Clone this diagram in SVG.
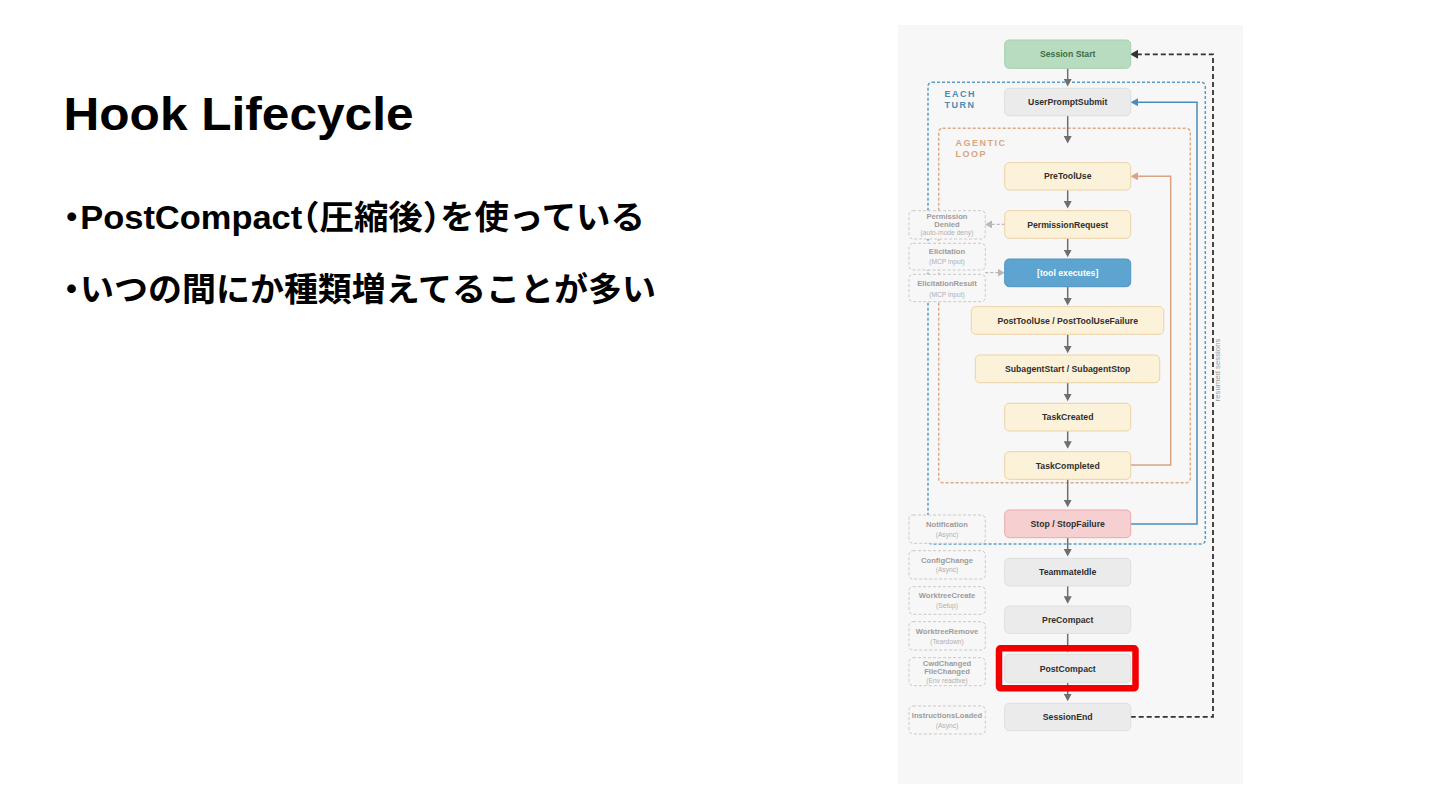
<svg xmlns="http://www.w3.org/2000/svg" width="1440" height="810" viewBox="0 0 1440 810">
<style>
.title{font-family:"Liberation Sans",Arial,sans-serif;font-weight:700;font-size:46px;fill:#000}
.bul{font-family:"Liberation Sans","Noto Sans CJK JP",sans-serif;font-weight:700;font-size:33.5px;fill:#000;font-feature-settings:"halt"}
.nl{font-family:"Liberation Sans",Arial,sans-serif;font-weight:700;font-size:8.7px;fill:#2f2f2f;text-anchor:middle}
.sl{font-family:"Liberation Sans",Arial,sans-serif;font-weight:700;font-size:7.6px;fill:#9c9c9c;text-anchor:middle}
.ss{font-family:"Liberation Sans",Arial,sans-serif;font-size:6.7px;fill:#b0b0b0;text-anchor:middle}
.grp{font-family:"Liberation Sans",Arial,sans-serif;font-weight:700;font-size:9px;letter-spacing:1.5px}
.gray{fill:#ebebeb;stroke:#dedede;stroke-width:1}
.cream{fill:#fcf2d9;stroke:#ebd3a6;stroke-width:1}
.side{fill:#f7f7f7;stroke:#c9c9c9;stroke-width:1;stroke-dasharray:3 2}
.arr{stroke:#6e6e6e;stroke-width:1.5;fill:none;marker-end:url(#ah)}
.darr{stroke:#b8b8b8;stroke-width:1.2;fill:none;stroke-dasharray:3 2;marker-end:url(#ahl)}
</style>
<defs>
<marker id="ah" markerUnits="userSpaceOnUse" markerWidth="8" markerHeight="8" refX="5" refY="4" orient="auto"><path d="M0,0 L7.5,4 L0,8 z" fill="#6e6e6e"/></marker>
<marker id="ahl" markerUnits="userSpaceOnUse" markerWidth="8" markerHeight="8" refX="5" refY="4" orient="auto"><path d="M0,0 L7,4 L0,8 z" fill="#b8b8b8"/></marker>
<marker id="aho" markerUnits="userSpaceOnUse" markerWidth="8" markerHeight="8" refX="5" refY="4" orient="auto"><path d="M0,0 L7.5,4 L0,8 z" fill="#d9a483"/></marker>
<marker id="ahb" markerUnits="userSpaceOnUse" markerWidth="8" markerHeight="8" refX="5" refY="4" orient="auto"><path d="M0,0 L7.5,4 L0,8 z" fill="#4b8dba"/></marker>
<marker id="ahk" markerUnits="userSpaceOnUse" markerWidth="9" markerHeight="9" refX="5" refY="4.5" orient="auto"><path d="M0,0 L8,4.5 L0,9 z" fill="#333"/></marker>
</defs>
<rect width="1440" height="810" fill="#fff"/>
<text class="title" x="63.5" y="130" textLength="350" lengthAdjust="spacingAndGlyphs">Hook Lifecycle</text>
<text class="bul" x="63" y="229" textLength="582" lengthAdjust="spacingAndGlyphs">・PostCompact（圧縮後）を使っている</text>
<text class="bul" x="63" y="301" textLength="593" lengthAdjust="spacingAndGlyphs">・いつの間にか種類増えてることが多い</text>

<rect x="898" y="25" width="345" height="759" fill="#f7f7f7"/>

<g id="each-turn">
<rect x="928" y="82.3" width="277.3" height="461.7" rx="4" fill="none" stroke="#5b9cc6" stroke-width="1.5" stroke-dasharray="3 2"/>
<text class="grp" x="944.5" y="97" fill="#4a8ab5">EACH</text>
<text class="grp" x="944.5" y="107.8" fill="#4a8ab5">TURN</text>
</g>
<g id="agentic-loop">
<rect x="938.7" y="128.3" width="251.6" height="354.4" rx="4" fill="none" stroke="#dcaa8a" stroke-width="1.5" stroke-dasharray="3 2"/>
<text class="grp" x="955.5" y="146" fill="#d9a57f">AGENTIC</text>
<text class="grp" x="955.5" y="156.8" fill="#d9a57f">LOOP</text>
</g>

<g id="connectors">
<line class="arr" x1="1067.7" y1="68.3" x2="1067.7" y2="84"/>
<line class="arr" x1="1067.7" y1="115.7" x2="1067.7" y2="141"/>
<line class="arr" x1="1067.7" y1="190" x2="1067.7" y2="206"/>
<line class="arr" x1="1067.7" y1="238.3" x2="1067.7" y2="254.7"/>
<line class="arr" x1="1067.7" y1="286.7" x2="1067.7" y2="303"/>
<line class="arr" x1="1067.7" y1="334.3" x2="1067.7" y2="350.7"/>
<line class="arr" x1="1067.7" y1="382.7" x2="1067.7" y2="398.7"/>
<line class="arr" x1="1067.7" y1="431" x2="1067.7" y2="446.3"/>
<line class="arr" x1="1067.7" y1="479.3" x2="1067.7" y2="504.7"/>
<line class="arr" x1="1067.7" y1="537.7" x2="1067.7" y2="554"/>
<line class="arr" x1="1067.7" y1="586" x2="1067.7" y2="601.3"/>
<line class="arr" x1="1067.7" y1="633.3" x2="1067.7" y2="650"/>
<line class="arr" x1="1067.7" y1="682.7" x2="1067.7" y2="698.7"/>
<path d="M1130.7,465 H1170.7 V176.3 H1133" fill="none" stroke="#d9a483" stroke-width="1.5" marker-end="url(#aho)"/>
<path d="M1130.7,524 H1197 V102.3 H1133" fill="none" stroke="#4b8dba" stroke-width="1.5" marker-end="url(#ahb)"/>
<path d="M1130.7,716.8 H1213 V54.3 H1133" fill="none" stroke="#333" stroke-width="1.8" stroke-dasharray="5 3" marker-end="url(#ahk)"/>
<line class="darr" x1="1004.7" y1="224.4" x2="987" y2="224.4"/>
<line class="darr" x1="985.3" y1="272.7" x2="1002.7" y2="272.7"/>
<text x="1220" y="370" transform="rotate(-90 1220 370)" font-family="Liberation Sans, Arial, sans-serif" font-size="7.8" fill="#9a9a9a" text-anchor="middle">resumed sessions</text>
</g>

<g id="session-start"><rect x="1004.7" y="40" width="126" height="28.3" rx="4.5" fill="#b8dcbf" stroke="#a5cfad"/><text class="nl" x="1067.7" y="57.3" style="fill:#3e6d47">Session Start</text></g>
<g id="user-prompt-submit"><rect class="gray" x="1004.7" y="88.3" width="126" height="27.4" rx="4.5"/><text class="nl" x="1067.7" y="105.1">UserPromptSubmit</text></g>
<g id="pre-tool-use"><rect class="cream" x="1004.7" y="162.7" width="126" height="27.3" rx="4.5"/><text class="nl" x="1067.7" y="179.4">PreToolUse</text></g>
<g id="permission-request"><rect class="cream" x="1004.7" y="210.7" width="126" height="27.6" rx="4.5"/><text class="nl" x="1067.7" y="227.6">PermissionRequest</text></g>
<g id="tool-executes"><rect x="1004.7" y="259" width="126" height="27.7" rx="4.5" fill="#5ea4d0" stroke="#4f94c2"/><text class="nl" x="1067.7" y="275.9" style="fill:#fff">[tool executes]</text></g>
<g id="post-tool-use"><rect class="cream" x="971.3" y="306.7" width="192.4" height="27.6" rx="4.5"/><text class="nl" x="1067.7" y="323.6">PostToolUse / PostToolUseFailure</text></g>
<g id="subagent"><rect class="cream" x="975.3" y="355" width="184.4" height="27.7" rx="4.5"/><text class="nl" x="1067.7" y="371.9">SubagentStart / SubagentStop</text></g>
<g id="task-created"><rect class="cream" x="1004.7" y="403.3" width="126" height="27.7" rx="4.5"/><text class="nl" x="1067.7" y="420.3">TaskCreated</text></g>
<g id="task-completed"><rect class="cream" x="1004.7" y="451.7" width="126" height="27.6" rx="4.5"/><text class="nl" x="1067.7" y="468.6">TaskCompleted</text></g>
<g id="stop"><rect x="1004.7" y="510" width="126" height="27.7" rx="4.5" fill="#f6cfd1" stroke="#e9a9ad"/><text class="nl" x="1067.7" y="526.9">Stop / StopFailure</text></g>
<g id="teammate-idle"><rect class="gray" x="1004.7" y="558.3" width="126" height="27.7" rx="4.5"/><text class="nl" x="1067.7" y="575.3">TeammateIdle</text></g>
<g id="pre-compact"><rect class="gray" x="1004.7" y="606" width="126" height="27.3" rx="4.5"/><text class="nl" x="1067.7" y="622.8">PreCompact</text></g>
<g id="post-compact"><rect class="gray" x="1004.7" y="654.3" width="126" height="28.4" rx="4.5"/><text class="nl" x="1067.7" y="671.6">PostCompact</text></g>
<g id="session-end"><rect class="gray" x="1004.7" y="703.3" width="126" height="27.4" rx="4.5"/><text class="nl" x="1067.7" y="720.1">SessionEnd</text></g>

<g id="permission-denied"><rect class="side" x="909" y="210.7" width="76.3" height="28.3" rx="4"/><text class="sl" x="947" y="218.6">Permission</text><text class="sl" x="947" y="226.9">Denied</text><text class="ss" x="947" y="234.6">(auto-mode deny)</text></g>
<g id="elicitation"><rect class="side" x="909" y="243.3" width="76.3" height="26.7" rx="4"/><text class="sl" x="947" y="254.4">Elicitation</text><text class="ss" x="947" y="264">(MCP input)</text></g>
<g id="elicitation-result"><rect class="side" x="909" y="274.3" width="76.3" height="27.4" rx="4"/><text class="sl" x="947" y="286">ElicitationResult</text><text class="ss" x="947" y="296.6">(MCP input)</text></g>
<g id="notification"><rect class="side" x="909" y="515" width="76.3" height="28.3" rx="4"/><text class="sl" x="947" y="526.7">Notification</text><text class="ss" x="947" y="536.6">(Async)</text></g>
<g id="config-change"><rect class="side" x="909" y="550.7" width="76.3" height="28.3" rx="4"/><text class="sl" x="947" y="562.7">ConfigChange</text><text class="ss" x="947" y="572.3">(Async)</text></g>
<g id="worktree-create"><rect class="side" x="909" y="586.7" width="76.3" height="27.6" rx="4"/><text class="sl" x="947" y="598.4">WorktreeCreate</text><text class="ss" x="947" y="608.3">(Setup)</text></g>
<g id="worktree-remove"><rect class="side" x="909" y="621.7" width="76.3" height="28.3" rx="4"/><text class="sl" x="947" y="633.7">WorktreeRemove</text><text class="ss" x="947" y="644">(Teardown)</text></g>
<g id="cwd-changed"><rect class="side" x="909" y="657.7" width="76.3" height="28" rx="4"/><text class="sl" x="947" y="666">CwdChanged</text><text class="sl" x="947" y="674.4">FileChanged</text><text class="ss" x="947" y="683">(Env reactive)</text></g>
<g id="instructions-loaded"><rect class="side" x="909" y="706" width="76.3" height="28" rx="4"/><text class="sl" x="947" y="717.7">InstructionsLoaded</text><text class="ss" x="947" y="727.6">(Async)</text></g>

<g id="highlight"><rect x="999" y="648.3" width="136.5" height="40" rx="1.5" fill="none" stroke="#f20000" stroke-width="6.5"/></g>
</svg>
